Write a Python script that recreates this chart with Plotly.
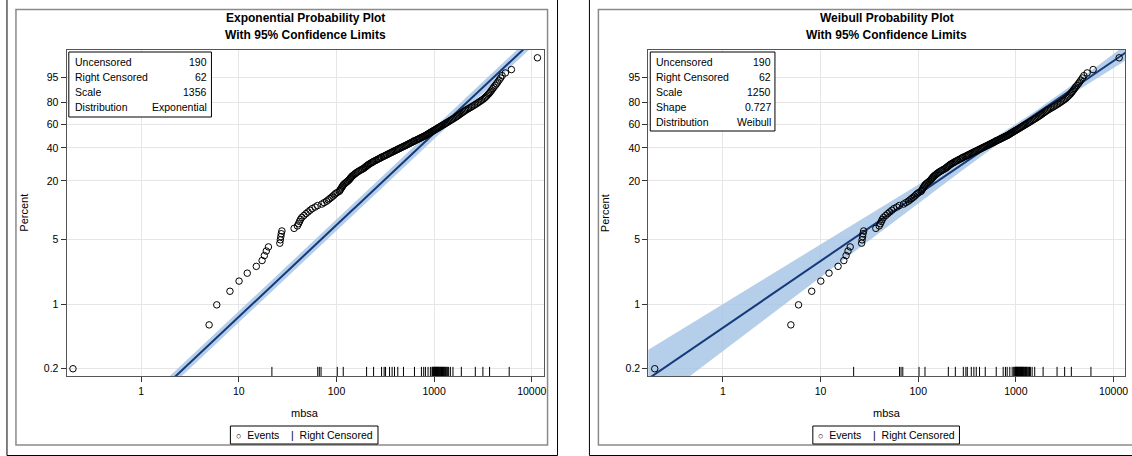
import numpy as np
import plotly.graph_objects as go

W, H = 1132, 456

# ---------------- data ----------------
event_mbsa = [
    0.200, 4.96, 5.94, 8.11, 10.05, 12.2, 15.1, 17.3, 18.25, 19.1, 20.1,
    26.3, 26.6, 26.9, 27.2, 27.6, 36.8, 39.8, 40.9, 41.9, 42.8, 44.2, 46.4, 48.7, 51.1, 53.7, 56.4, 60.4, 64.1,
    70.8, 74.8, 79.1, 82.3, 85.5, 88.9, 91.9, 94.8, 97.6, 101.4,
    106.8, 108.4, 110.2, 112.0, 113.8, 115.7, 117.0,
    119.7, 122.8, 126.1, 129.5, 133.0, 135.5, 137.7, 140.0, 142.3, 144.9, 148.3, 151.9, 155.6, 159.2,
    163.2, 168.3, 173.5, 178.9, 184.3, 190.0, 194.4, 198.4, 202.5,
    206.7, 211.0, 215.4, 221.4, 227.6, 234.0, 238.6,
    247.1, 254.1, 261.5, 269.1, 276.9, 285.2, 288.9,
    302.0, 310.6,
    319.2, 328.1, 337.2, 346.6,
    356.3, 366.4,
    376.6, 387.4,
    398.5, 409.8, 420.9,
    432.4, 444.1, 456.4, 468.9, 481.3,
    494.9, 508.4, 521.9, 535.0, 548.8, 562.5, 577.0, 591.5, 606.8, 621.8, 627.9,
    653.9, 670.1, 686.8, 703.7, 720.8, 738.5,
    757.0, 776.2,
    795.8, 815.7,
    833.8, 850.5, 867.3,
    881.9, 900.4, 920.0, 940.5, 961.9, 984.1, 1007, 1032, 1057, 1084, 1110, 1139,
    1168, 1199, 1233, 1266, 1302, 1338, 1377, 1417, 1458, 1502, 1548,
    1596, 1645, 1691, 1737, 1785, 1833, 1883,
    1935, 1990, 2046, 2105, 2179, 2255, 2333, 2415, 2499, 2587,
    2678, 2768, 2860, 2958, 3057, 3161,
    3261, 3350, 3439, 3533, 3626, 3712,
    3805, 3899, 3996, 4097, 4224, 4356, 4492, 4637, 4799, 4971, 5369, 6188,
    11435,
]

event_pct = [
    0.20, 0.60, 0.99, 1.39, 1.79, 2.18, 2.58, 2.98, 3.37, 3.77, 4.17,
    4.57, 4.96, 5.36, 5.76, 6.16, 6.56, 6.96, 7.35, 7.75, 8.15, 8.55, 8.95, 9.35, 9.74, 10.14, 10.54, 10.94, 11.34,
    11.74, 12.14, 12.55, 12.95, 13.35, 13.75, 14.15, 14.55, 14.96, 15.36,
    15.77, 16.17, 16.58, 16.99, 17.39, 17.80, 18.20,
    18.61, 19.02, 19.43, 19.83, 20.24, 20.65, 21.06, 21.47, 21.87, 22.28, 22.69, 23.10, 23.51, 23.91,
    24.32, 24.73, 25.14, 25.55, 25.95, 26.36, 26.77, 27.18, 27.59,
    28.00, 28.41, 28.82, 29.23, 29.64, 30.05, 30.46,
    30.87, 31.29, 31.70, 32.11, 32.52, 32.94, 33.35,
    33.76, 34.17,
    34.59, 35.01, 35.43, 35.85,
    36.27, 36.70,
    37.12, 37.55,
    37.98, 38.41, 38.84,
    39.27, 39.70, 40.14, 40.57, 41.00,
    41.44, 41.87, 42.31, 42.74, 43.18, 43.61, 44.05, 44.48, 44.92, 45.35, 45.79,
    46.23, 46.67, 47.11, 47.55, 47.98, 48.42,
    48.86, 49.31,
    49.76, 50.20,
    50.65, 51.10, 51.55,
    52.01, 52.48, 52.97, 53.46, 53.97, 54.49, 55.02, 55.56, 56.12, 56.69, 57.26, 57.85,
    58.46, 59.07, 59.70, 60.33, 60.98, 61.64, 62.32, 63.00, 63.70, 64.41, 65.13,
    65.86, 66.58, 67.31, 68.03, 68.76, 69.48, 70.21,
    70.95, 71.70, 72.44, 73.18, 73.93, 74.67, 75.41, 76.16, 76.90, 77.64,
    78.41, 79.18, 79.95, 80.72, 81.49, 82.26,
    83.06, 83.87, 84.67, 85.48, 86.28, 87.08,
    87.94, 88.79, 89.65, 90.51, 91.36, 92.22, 93.08, 93.94, 94.79, 95.65, 96.51, 97.40,
    99.26,
]

censored_mbsa = [
    21.8, 64.3, 66.7, 69.5, 101.9, 117.3, 203.4, 239.9, 289.6, 307.7, 318.2, 349.5,
    371.5, 393.0, 424.5, 485.6, 629.3, 741.6, 782.6, 815.0, 866.7, 916.2, 952.2, 960,
    980, 990.6, 1000, 1014, 1020, 1031, 1040, 1045, 1060, 1071, 1080, 1096, 1100, 1114,
    1125, 1141, 1150, 1168, 1180, 1190, 1204, 1220, 1240, 1254, 1270, 1290, 1304, 1330,
    1355, 1380, 1409, 1468, 1560, 1901, 2642, 3160, 3700, 5875,
]

y_tick_pct = [0.2, 1, 5, 20, 40, 60, 80, 95]
y_tick_text = ["0.2", "1", "5", "20", "40", "60", "80", "95"]
x_tick_vals = [1, 10, 100, 1000, 10000]
x_tick_text = ["1", "10", "100", "1000", "10000"]

n_uncensored = 190
exp_scale = 1356
wei_scale = 1250
wei_shape = 0.727

exp_table_labels = ["Uncensored", "Right Censored", "Scale", "Distribution"]
exp_table_values = ["190", "62", "1356", "Exponential"]
wei_table_labels = ["Uncensored", "Right Censored", "Scale", "Shape", "Distribution"]
wei_table_values = ["190", "62", "1250", "0.727", "Weibull"]

panel_titles = ["Exponential Probability Plot", "Weibull Probability Plot"]
subtitle = "With 95% Confidence Limits"
x_title = "mbsa"
y_title = "Percent"
legend_text = "<span style='font-size:9px'>○</span>  Events    |  Right Censored"

# ---------------- helpers ----------------
FONT = "Liberation Sans, Arial, sans-serif"
LINE_COL = "#16397a"
BAND_COL = "rgba(160,192,228,0.78)"


def wq(pct):
    p = np.asarray(pct, dtype=float) / 100.0
    return np.log(-np.log1p(-p))


def fx(px):
    return px / W


def fy(py):
    return 1 - py / H


panels = [
    dict(xa="x", ya="y", px0=66.7, px1=545.0, outer=(7, -3, 559, 455.5), inner=(16, 9.5, 549, 445),
         labels=exp_table_labels, values=exp_table_values, tbox=(69, 52, 212, 117),
         title=panel_titles[0], kind="exp", ytitle_x=24, legend_box=(231, 426, 379, 444)),
    dict(xa="x2", ya="y2", px0=650.0, px1=1128.3, outer=(591, -3, 1140, 455.5), inner=(600, 9.5, 1140, 445),
         labels=wei_table_labels, values=wei_table_values, tbox=(652, 52, 777, 131),
         title=panel_titles[1], kind="wei", ytitle_x=606, legend_box=(815, 426, 962, 444)),
]

fig = go.Figure()
shapes = []
annotations = []
layout_axes = {}

PLOT_TOP, PLOT_BOT = 49.5, 376.0
y_range = [-6.396, 1.799]
x_range = [-0.765, 4.121]

grid = np.logspace(-1.3, 4.4, 200)
u = np.log(grid)

for i, P in enumerate(panels):
    xa, ya = P["xa"], P["ya"]
    if P["kind"] == "exp":
        w_fit = u - np.log(exp_scale)
        half = np.full_like(u, 1.96 / np.sqrt(n_uncensored))
    else:
        w_fit = wei_shape * (u - np.log(wei_scale))
        half = 1.96 * np.sqrt(0.00167 + 0.00164 * (u - np.log(1500)) ** 2)
    upper = w_fit + half
    lower = w_fit - half

    fig.add_trace(go.Scatter(
        x=np.concatenate([grid, grid[::-1]]), y=np.concatenate([upper, lower[::-1]]),
        fill="toself", fillcolor=BAND_COL, line=dict(width=0), mode="lines",
        hoverinfo="skip", showlegend=False, xaxis=xa, yaxis=ya))
    fig.add_trace(go.Scatter(
        x=grid, y=w_fit, mode="lines", line=dict(color=LINE_COL, width=2),
        showlegend=False, xaxis=xa, yaxis=ya))
    fig.add_trace(go.Scatter(
        x=event_mbsa, y=wq(event_pct), mode="markers",
        marker=dict(symbol="circle-open", size=6.5, color="black", line=dict(width=1)),
        showlegend=False, xaxis=xa, yaxis=ya))

    sfx = "" if i == 0 else "2"
    layout_axes["xaxis" + sfx] = dict(
        domain=[fx(P["px0"]), fx(P["px1"])], anchor=ya, type="log", range=x_range,
        tickmode="array", tickvals=x_tick_vals, ticktext=x_tick_text,
        ticks="outside", ticklen=5, tickcolor="#333", showgrid=True, gridcolor="#e6e6e6",
        showline=True, linecolor="#555", linewidth=1, mirror=True, zeroline=False,
        tickfont=dict(family=FONT, size=10.5, color="black"))
    layout_axes["yaxis" + sfx] = dict(
        domain=[fy(PLOT_BOT), fy(PLOT_TOP)], anchor=xa, range=y_range,
        tickmode="array", tickvals=list(wq(y_tick_pct)), ticktext=y_tick_text,
        ticks="outside", ticklen=5, tickcolor="#333", showgrid=True, gridcolor="#e6e6e6",
        showline=True, linecolor="#555", linewidth=1, mirror=True, zeroline=False,
        tickfont=dict(family=FONT, size=10.5, color="black"))

    # rug of right-censored times
    for c in censored_mbsa:
        shapes.append(dict(type="line", xref=xa, yref=ya + " domain", x0=c, x1=c, y0=0, y1=0.028,
                           line=dict(color="black", width=1)))

    # panel frames
    ox0, oy0, ox1, oy1 = P["outer"]
    shapes.append(dict(type="rect", xref="paper", yref="paper", x0=fx(ox0), x1=fx(ox1), y0=fy(oy1), y1=fy(oy0),
                       line=dict(color="black", width=1), layer="below"))
    ix0, iy0, ix1, iy1 = P["inner"]
    shapes.append(dict(type="rect", xref="paper", yref="paper", x0=fx(ix0), x1=fx(ix1), y0=fy(iy1), y1=fy(iy0),
                       line=dict(color="#8a8a8a", width=1.5), layer="below"))

    # stats table
    tx0, ty0, tx1, ty1 = P["tbox"]
    shapes.append(dict(type="rect", xref="paper", yref="paper", x0=fx(tx0), x1=fx(tx1), y0=fy(ty1), y1=fy(ty0),
                       line=dict(color="black", width=1), fillcolor="white", layer="above"))
    for r, (lab, val) in enumerate(zip(P["labels"], P["values"])):
        yy = fy(62 + 15 * r)
        annotations.append(dict(xref="paper", yref="paper", x=fx(tx0 + 4), y=yy, text=lab, showarrow=False,
                                xanchor="left", yanchor="middle", font=dict(family=FONT, size=10.5, color="black")))
        annotations.append(dict(xref="paper", yref="paper", x=fx(tx1 - 2), y=yy, text=val, showarrow=False,
                                xanchor="right", yanchor="middle", font=dict(family=FONT, size=10.5, color="black")))

    cx = (P["px0"] + P["px1"]) / 2
    annotations.append(dict(xref="paper", yref="paper", x=fx(cx), y=fy(18), text="<b>" + P["title"] + "</b>",
                            showarrow=False, xanchor="center", yanchor="middle",
                            font=dict(family=FONT, size=12, color="black")))
    annotations.append(dict(xref="paper", yref="paper", x=fx(cx), y=fy(35), text="<b>" + subtitle + "</b>",
                            showarrow=False, xanchor="center", yanchor="middle",
                            font=dict(family=FONT, size=12, color="black")))
    annotations.append(dict(xref="paper", yref="paper", x=fx(cx), y=fy(413), text=x_title,
                            showarrow=False, xanchor="center", yanchor="middle",
                            font=dict(family=FONT, size=11, color="black")))
    annotations.append(dict(xref="paper", yref="paper", x=fx(P["ytitle_x"]), y=fy((PLOT_TOP + PLOT_BOT) / 2),
                            text=y_title, textangle=-90, showarrow=False, xanchor="center", yanchor="middle",
                            font=dict(family=FONT, size=11, color="black")))
    # legend
    lx0, ly0, lx1, ly1 = P["legend_box"]
    shapes.append(dict(type="rect", xref="paper", yref="paper", x0=fx(lx0), x1=fx(lx1), y0=fy(ly1), y1=fy(ly0),
                       line=dict(color="black", width=1), fillcolor="white", layer="below"))
    annotations.append(dict(xref="paper", yref="paper", x=fx((lx0 + lx1) / 2), y=fy((ly0 + ly1) / 2),
                            text=legend_text, showarrow=False, xanchor="center", yanchor="middle",
                            font=dict(family=FONT, size=10.5, color="black")))

fig.update_layout(
    width=W, height=H, autosize=False,
    margin=dict(l=0, r=0, t=0, b=0),
    paper_bgcolor="white", plot_bgcolor="white",
    showlegend=False,
    shapes=shapes, annotations=annotations,
    font=dict(family=FONT, size=10.5, color="black"),
    **layout_axes,
)

fig.write_html(
    "out.html",
    config={"displayModeBar": False},
    post_script="document.body.style.margin='0';document.body.style.overflow='hidden';",
)
